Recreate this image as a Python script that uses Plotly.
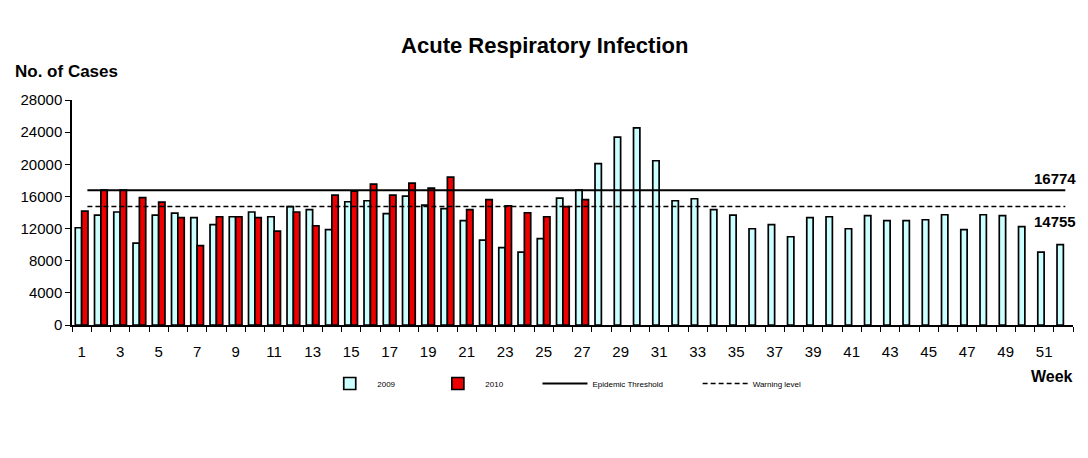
import plotly.graph_objects as go

# weekly ARI cases
weeks = list(range(1, 53))
cases_2009 = [12100, 13680, 14060, 10200, 13680, 13930, 13350, 12480, 13470, 14060,
              13470, 14720, 14350, 11860, 15340, 15460, 13850, 16050, 14930, 14470,
              12980, 10570, 9620, 9080, 10740, 15800, 16800, 20070, 23390, 24540,
              20440, 15460, 15710, 14350, 13680, 11980, 12480, 10980, 13350, 13470,
              11980, 13600, 12980, 12980, 13100, 13720, 11860, 13720, 13600, 12230,
              9080, 9990]
weeks_2010 = list(range(1, 28))
cases_2010 = [14180, 16800, 16800, 15840, 15300, 13350, 9870, 13470, 13470, 13350,
              11690, 14060, 12350, 16170, 16670, 17540, 16170, 17660, 17040, 18410,
              14350, 15590, 14840, 13970, 13470, 14720, 15590]
epidemic_threshold = 16774
warning_level = 14755
y_ticks = [0, 4000, 8000, 12000, 16000, 20000, 24000, 28000]
x_ticks = list(range(1, 53, 2))

# page body has an 8px margin, so the figure is a bit smaller than the window
W, H = 1080, 450

fig = go.Figure()
fig.add_trace(go.Bar(x=weeks, y=cases_2009, name="2009", legend="legend",
                     marker=dict(color="#CCFFFF", line=dict(color="black", width=1.7))))
fig.add_trace(go.Bar(x=weeks_2010, y=cases_2010, name="2010", legend="legend2",
                     marker=dict(color="#EE0000", line=dict(color="black", width=1.7))))
fig.add_trace(go.Scatter(x=[weeks[0] + 0.3, weeks[-1] + 0.1], y=[epidemic_threshold] * 2,
                         mode="lines", name="Epidemic Threshold", legend="legend3",
                         line=dict(color="black", width=2)))
fig.add_trace(go.Scatter(x=[weeks[0] + 0.3, weeks[-1] + 0.1], y=[warning_level] * 2,
                         mode="lines", name="Warning level", legend="legend4",
                         line=dict(color="black", width=1.5, dash="5px,3px")))

fig.add_annotation(x=1.005, xref="paper", xanchor="right", y=epidemic_threshold, yshift=12,
                   text="<b>16774</b>", showarrow=False, font=dict(size=15, color="black"))
fig.add_annotation(x=1.005, xref="paper", xanchor="right", y=warning_level, yshift=-15,
                   text="<b>14755</b>", showarrow=False, font=dict(size=15, color="black"))
fig.add_annotation(x=-0.059, xref="paper", xanchor="left", y=1.18, yref="paper",
                   text="<b>No. of Cases</b>", showarrow=False, font=dict(size=17, color="black"))
fig.add_annotation(x=1.002, xref="paper", xanchor="right", y=-0.275, yref="paper",
                   text="<b>Week</b>", showarrow=False, font=dict(size=16, color="black"))

leg = dict(orientation="h", y=-0.26, yanchor="middle", xanchor="left",
           font=dict(size=8), itemwidth=45, bgcolor="rgba(0,0,0,0)")

fig.update_layout(
    width=W, height=H,
    margin=dict(l=64, r=15, t=92, b=133),
    paper_bgcolor="white", plot_bgcolor="white",
    font=dict(family="Liberation Sans, Arial", color="black"),
    title=dict(text="<b>Acute Respiratory Infection</b>", x=0.497, xanchor="center",
               y=0.918, yanchor="middle", font=dict(size=22)),
    barmode="group", bargap=0.34, bargroupgap=0,
    showlegend=True,
    legend=dict(leg, x=0.250),
    legend2=dict(leg, x=0.358),
    legend3=dict(leg, x=0.465),
    legend4=dict(leg, x=0.625),
    xaxis=dict(range=[0.5, 52.5], tickmode="array", tickvals=x_ticks, ticks="",
               ticklabelstandoff=12,
               showline=True, linecolor="black", linewidth=1.5, showgrid=False,
               tickfont=dict(size=15),
               minor=dict(tick0=0.5, dtick=1, ticks="outside", ticklen=5,
                          tickcolor="black", showgrid=False)),
    yaxis=dict(range=[0, 28000], tickmode="array", tickvals=y_ticks,
               ticktext=[str(v) for v in y_ticks], ticks="outside",
               ticklen=5, tickcolor="black", showline=True, linecolor="black",
               linewidth=1.5, showgrid=False, zeroline=False, tickfont=dict(size=15)),
)

fig.write_html("out.html")
